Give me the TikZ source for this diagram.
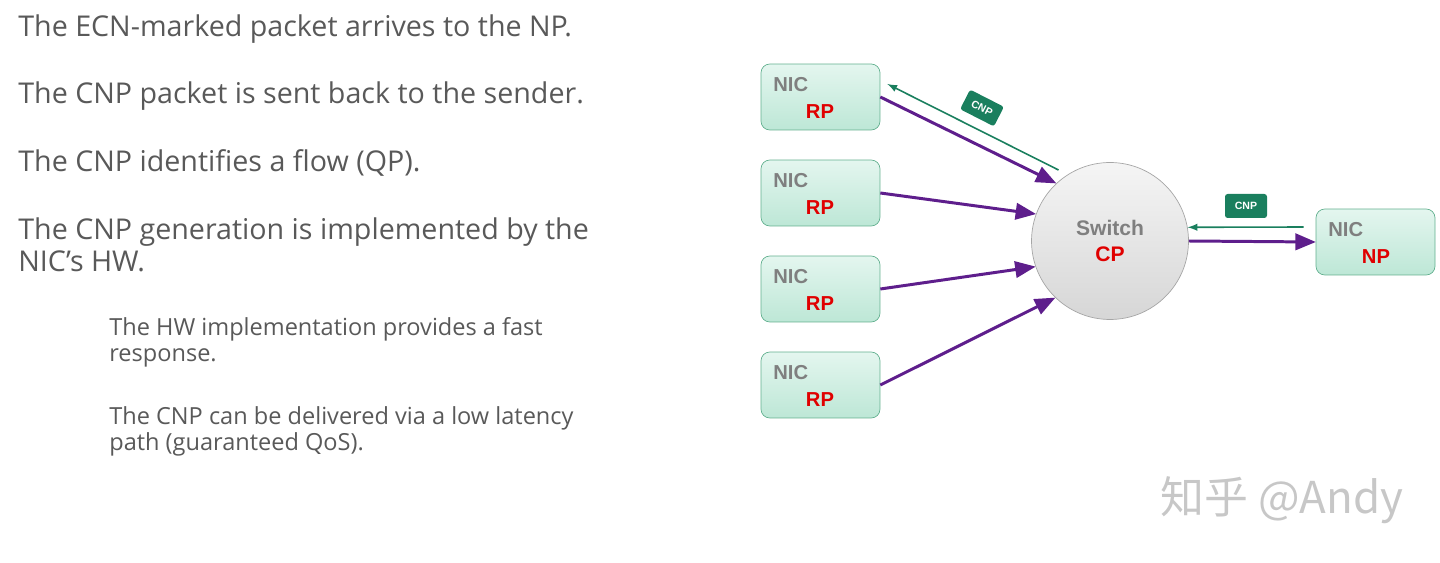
\documentclass[tikz,border=0pt]{standalone}
\usepackage{fontspec}
\setmainfont{Open Sans}
\newfontfamily\arialfont{Liberation Sans}
\newfontfamily\cjkfont{Noto Sans CJK SC}
\usetikzlibrary{shapes,arrows,positioning}
\usepackage{xcolor}
\definecolor{textgray}{HTML}{595959}
\definecolor{nicgray}{HTML}{7F7F7F}
\definecolor{rpred}{HTML}{E00000}
\definecolor{flowpurple}{HTML}{5E1E8C}
\definecolor{cnpgreen}{HTML}{1A7F5E}
\definecolor{boxtop}{HTML}{E4F6EF}
\definecolor{boxbottom}{HTML}{BDE7D6}
\definecolor{boxline}{HTML}{62B08F}

\begin{document}
\begin{tikzpicture}[x=0.02cm,y=-0.02cm]
        \tikzstyle{nic} = [rectangle, rounded corners=5pt, draw=boxline, top color=boxtop, bottom color=boxbottom, minimum width=2.38cm, minimum height=1.32cm, inner sep=0pt]
        \tikzstyle{niclabel} = [anchor=base west, inner sep=0pt, text=nicgray, font=\arialfont\bfseries\fontsize{11.5}{12}\selectfont]
        \tikzstyle{rplabel} = [anchor=base, inner sep=0pt, text=rpred, font=\arialfont\bfseries\fontsize{11.5}{12}\selectfont]
        \tikzstyle{switch} = [circle, draw=black!35, top color=black!4, bottom color=black!16, minimum size=3.14cm, inner sep=0pt, align=center, font=\arialfont\bfseries\fontsize{12}{14.7}\selectfont]
        \tikzstyle{cnp} = [rectangle, rounded corners=1.5pt, fill=cnpgreen, text=white, inner sep=0pt, minimum width=0.76cm, minimum height=0.44cm, font=\arialfont\bfseries\fontsize{6}{7}\selectfont]
        \tikzstyle{flow} = [->, >=triangle 45, draw=flowpurple, line width=1.7pt]
        \tikzstyle{back} = [->, >=latex, draw=cnpgreen, line width=0.9pt]
        \tikzstyle{bigtext} = [anchor=base west, inner sep=0pt, align=left, text=textgray, font=\fontsize{16.3}{18.4}\selectfont]
        \tikzstyle{smalltext} = [anchor=base west, inner sep=0pt, align=left, text=textgray, font=\fontsize{13.4}{15}\selectfont]

        \useasboundingbox (0,0) rectangle (1440,563);

        % text on the left
        \node[bigtext] (t1) at (18,37) {The ECN-marked packet arrives to the NP.};
        \node[bigtext] (t2) at (18,104) {The CNP packet is sent back to the sender.};
        \node[bigtext] (t3) at (18,172) {The CNP identifies a flow (QP).};
        \node[bigtext] (t4) at (18,272) {The CNP generation is implemented by the\\NIC’s HW.};
        \node[smalltext] (t5) at (109,362) {The HW implementation provides a fast\\response.};
        \node[smalltext] (t6) at (109,451) {The CNP can be delivered via a low latency\\path (guaranteed QoS).};

        % senders
        \node[nic] (rp1) at (820.5,97) {};
        \node[nic] (rp2) at (820.5,193) {};
        \node[nic] (rp3) at (820.5,289) {};
        \node[nic] (rp4) at (820.5,385) {};
        \node[niclabel] (nic1) at (773,92) {NIC};
        \node[rplabel] (rpl1) at (820,119) {RP};
        \node[niclabel] (nic2) at (773,188) {NIC};
        \node[rplabel] (rpl2) at (820,215) {RP};
        \node[niclabel] (nic3) at (773,284) {NIC};
        \node[rplabel] (rpl3) at (820,311) {RP};
        \node[niclabel] (nic4) at (773,380) {NIC};
        \node[rplabel] (rpl4) at (820,407) {RP};

        % switch and receiver
        \node[switch] (sw) at (1110,241) {\textcolor{nicgray}{Switch}\\\textcolor{rpred}{CP}};
        \node[nic] (np) at (1375.5,242) {};
        \node[niclabel] (nic5) at (1328,237) {NIC};
        \node[rplabel] (npl) at (1376,264) {NP};

        % data flows
        \draw[flow] (rp1.east) -- (sw.133);
        \draw[flow] (rp2.east) -- (sw.160);
        \draw[flow] (rp3.east) -- (sw.199);
        \draw[flow] (rp4.east) -- (sw.226);
        \draw[flow] (sw.east) -- (np.west);

        % CNP back to the senders
        \draw[back] ([shift={(-4,-8)}]sw.127) -- ([shift={(7,-13)}]rp1.east);
        \draw[back] ([shift={(-12,-15)}]np.west) -- (sw.10);
        \node[cnp, rotate=-27] (cnp1) at (982,108) {CNP};
        \node[cnp, minimum width=0.84cm, minimum height=0.48cm] (cnp2) at (1246,206) {CNP};

        % watermark
        \node[anchor=base west, inner sep=0pt, text=black!22, font=\cjkfont\fontsize{25}{26}\selectfont] (wm) at (1160,514) {知乎 @Andy};
      \end{tikzpicture}
\end{document}
